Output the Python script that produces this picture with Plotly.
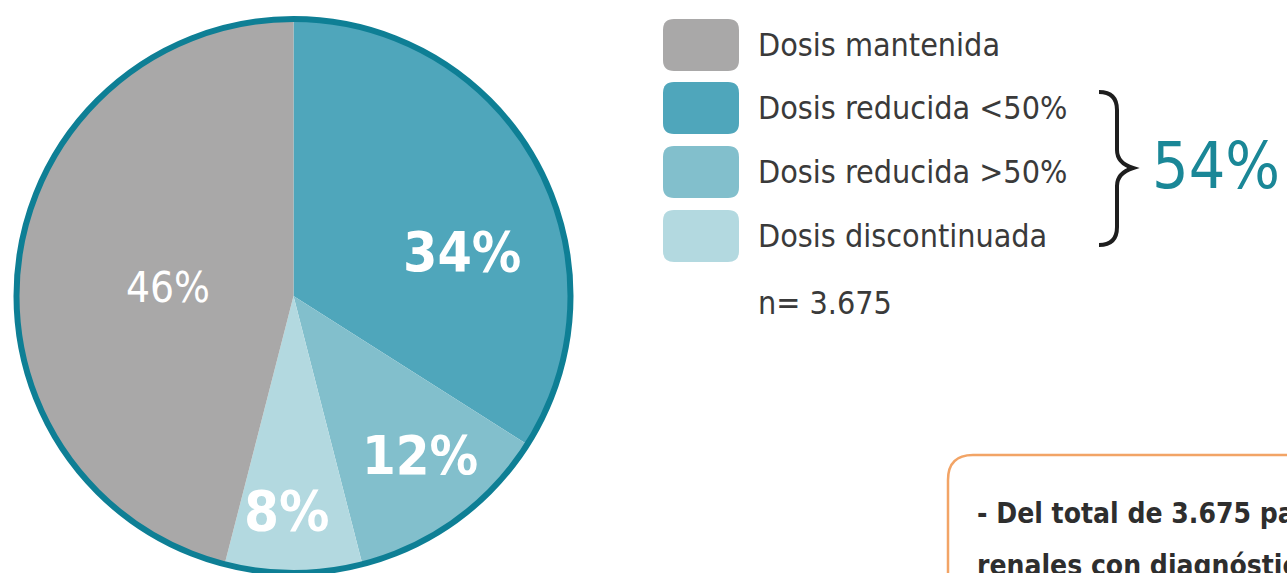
import plotly.graph_objects as go

# Dose adjustment categories (legend order) and their shares in percent
categories = ["Dosis mantenida", "Dosis reducida &lt;50%", "Dosis reducida &gt;50%", "Dosis discontinuada"]
shares = [46, 34, 12, 8]
colors = ["#a9a8a8", "#4fa6bb", "#82bfcc", "#b3d9e0"]
# clockwise from 12 o'clock the reduced/discontinued slices come first
slice_order = [1, 2, 3, 0]
sample_size = "3.675"

W, H = 1287, 573
FONT = "DejaVu Sans Condensed, Liberation Sans Narrow, Roboto, sans-serif"
TEAL = "#0e7f95"

pie_dom_x = [15 / W, 572 / W]
pie_dom_y = [0, 1 - 19 / H]

fig = go.Figure()

fig.add_trace(go.Pie(
    labels=[categories[i] for i in slice_order],
    values=[shares[i] for i in slice_order],
    marker=dict(colors=[colors[i] for i in slice_order], line=dict(width=0)),
    sort=False, direction="clockwise", rotation=0,
    textinfo="none", hoverinfo="label+percent",
    domain=dict(x=pie_dom_x, y=pie_dom_y), showlegend=False,
))
# outer ring of the pie
fig.add_trace(go.Pie(
    labels=["borde"], values=[1],
    marker=dict(colors=["rgba(0,0,0,0)"], line=dict(color=TEAL, width=6)),
    sort=False, textinfo="none", hoverinfo="skip",
    domain=dict(x=pie_dom_x, y=pie_dom_y), showlegend=False,
))
# invisible pixel-space axes for the legend, brace and note box
fig.add_trace(go.Scatter(x=[], y=[], showlegend=False, hoverinfo="skip"))

annotations = []
shapes = []

# percentage labels inside the slices
label_pos = {0: (168, 287, 42, False), 1: (462, 252, 55, True),
             2: (420, 455, 54, True), 3: (287, 510, 56, True)}
for i, (lx, ly, fs, bold) in label_pos.items():
    txt = f"{shares[i]}%"
    annotations.append(dict(
        x=lx, y=ly, xref="x", yref="y", text=f"<b>{txt}</b>" if bold else txt,
        showarrow=False, xanchor="center", yanchor="middle",
        font=dict(family=FONT, size=fs, color="white"),
    ))


def rounded_rect(x0, y0, x1, y1, r):
    return (f"M{x0 + r},{y0} L{x1 - r},{y0} Q{x1},{y0} {x1},{y0 + r} "
            f"L{x1},{y1 - r} Q{x1},{y1} {x1 - r},{y1} L{x0 + r},{y1} "
            f"Q{x0},{y1} {x0},{y1 - r} L{x0},{y0 + r} Q{x0},{y0} {x0 + r},{y0} Z")


# custom legend
row_y = [45, 108, 172, 236]
for name, col, cy in zip(categories, colors, row_y):
    shapes.append(dict(type="path", xref="x", yref="y",
                       path=rounded_rect(663, cy - 26, 739, cy + 26, 11),
                       fillcolor=col, line=dict(width=0)))
    annotations.append(dict(
        x=756, y=cy, xref="x", yref="y", text=name, showarrow=False,
        xanchor="left", yanchor="middle",
        font=dict(family=FONT, size=32, color="#3a3a3a"),
    ))
annotations.append(dict(
    x=756, y=303, xref="x", yref="y", text=f"n= {sample_size}", showarrow=False,
    xanchor="left", yanchor="middle",
    font=dict(family=FONT, size=32, color="#3a3a3a"),
))

# brace grouping the reduced / discontinued categories
brace = ("M1099,92 Q1117,92 1117,110 L1117,150 Q1117,163 1133,168 "
         "Q1117,173 1117,186 L1117,227 Q1117,245 1099,245")
shapes.append(dict(type="path", xref="x", yref="y", path=brace,
                   line=dict(color="#1e1e1e", width=4)))
reduced_total = sum(shares[1:])
annotations.append(dict(
    x=1150, y=166, xref="x", yref="y", text=f"{reduced_total}%", showarrow=False,
    xanchor="left", yanchor="middle",
    font=dict(family=FONT, size=64, color="#1a8797"),
))

# note box (continues beyond the visible area)
shapes.append(dict(type="path", xref="x", yref="y",
                   path="M948,620 L948,480 Q948,455 973,455 L1320,455",
                   line=dict(color="#f2a466", width=2.5)))
annotations.append(dict(
    x=975, y=513, xref="x", yref="y",
    text="<b>- Del total de 3.675 pacientes con insuficiencia</b>",
    showarrow=False, xanchor="left", yanchor="middle", align="left",
    font=dict(family=FONT, size=28, color="#2e2e2e"),
))
annotations.append(dict(
    x=975, y=565, xref="x", yref="y",
    text="<b>renales con diagnóstico de fibrilación auricular</b>",
    showarrow=False, xanchor="left", yanchor="middle", align="left",
    font=dict(family=FONT, size=28, color="#2e2e2e"),
))

fig.update_layout(
    width=W, height=H,
    margin=dict(l=0, r=0, t=0, b=0),
    paper_bgcolor="white", plot_bgcolor="rgba(0,0,0,0)",
    xaxis=dict(range=[0, W], visible=False, fixedrange=True),
    yaxis=dict(range=[H, 0], visible=False, fixedrange=True),
    shapes=shapes, annotations=annotations, showlegend=False,
)

fig.write_html("out.html")
